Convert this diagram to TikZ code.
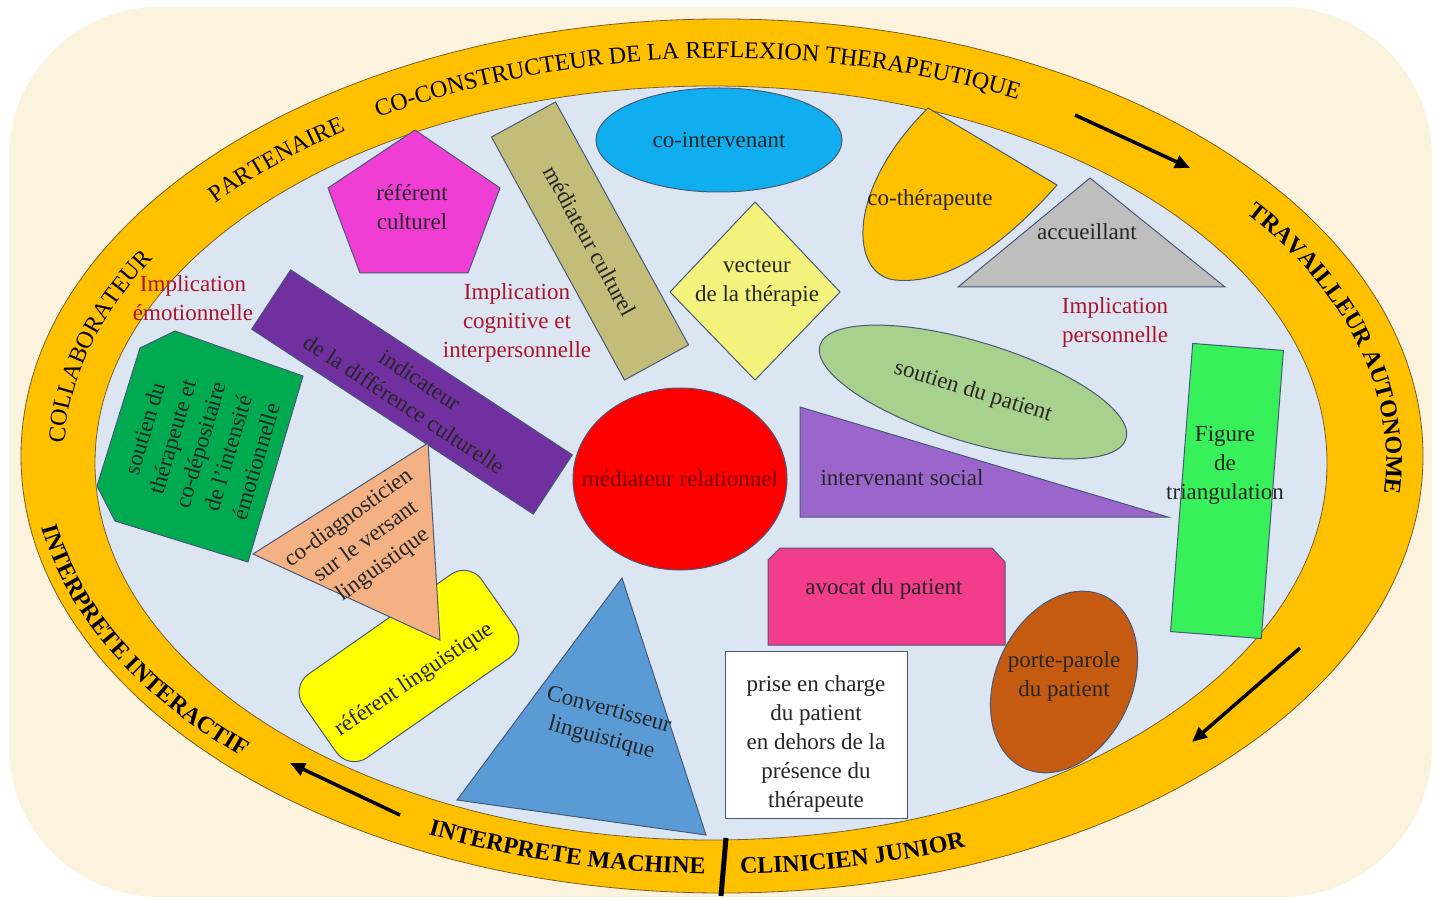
\documentclass[tikz,border=0pt]{standalone}
\usepackage{fontspec}
\setmainfont{Liberation Serif}
\usetikzlibrary{shapes.geometric,decorations.text,arrows.meta}

\definecolor{creme}{RGB}{252,243,222}
\definecolor{anneau}{RGB}{255,192,0}
\definecolor{ciel}{RGB}{220,230,242}
\definecolor{trait}{RGB}{70,90,120}
\definecolor{traitanneau}{RGB}{120,95,40}
\definecolor{rougeimpl}{RGB}{170,20,45}
\definecolor{magenta1}{RGB}{240,62,212}
\definecolor{kaki}{RGB}{196,189,122}
\definecolor{bleuvif}{RGB}{16,174,238}
\definecolor{gris}{RGB}{190,190,190}
\definecolor{jaunepale}{RGB}{242,242,125}
\definecolor{violet1}{RGB}{112,48,160}
\definecolor{vertfonce}{RGB}{0,170,80}
\definecolor{saumon}{RGB}{244,177,131}
\definecolor{jaune1}{RGB}{255,255,0}
\definecolor{bleu1}{RGB}{91,155,213}
\definecolor{rouge1}{RGB}{255,0,0}
\definecolor{rougetexte}{RGB}{120,0,0}
\definecolor{vertpale}{RGB}{169,209,142}
\definecolor{mauve}{RGB}{155,102,204}
\definecolor{vertvif}{RGB}{56,240,90}
\definecolor{rose1}{RGB}{242,60,140}
\definecolor{brun}{RGB}{197,90,17}

\newcommand{\ringfont}{\fontsize{24}{24}\selectfont}
\newcommand{\ringfontbf}{\fontsize{24}{24}\selectfont\bfseries}

\begin{document}
\begin{tikzpicture}[x=1pt, y=-1pt,
        every node/.style={font=\fontsize{23}{29}\selectfont, align=center, inner sep=0pt, text=black!85},
        forme/.style={draw=trait, line width=1pt},
        impl/.style={text=rougeimpl},
        bordanneau/.style={draw=traitanneau, line width=0.8pt},
        ringtext/.style={decorate, decoration={text along path, text align=center, text={|\ringfont|#1}}},
        ringtextbf/.style={decorate, decoration={text along path, text align=center, text={|\ringfontbf|#1}}},
        fleche/.style={line width=3.5pt, -{Triangle[length=15pt, width=13pt]}}]
        \useasboundingbox (0,0) rectangle (1441,901);
        \fill[creme, rounded corners=150pt] (9,7) rectangle (1432,897);
        \filldraw[fill=anneau, bordanneau] (722,456) ellipse [x radius=701, y radius=437];
        \filldraw[fill=ciel, bordanneau] (711,463) ellipse [x radius=616, y radius=377];

        \path[ringtext={COLLABORATEUR}] (725,460) ++(170:661 and 402) arc[start angle=170, end angle=220, x radius=661, y radius=402];
        \path[ringtext={PARTENAIRE}] (725,460) ++(206:661 and 402) arc[start angle=206, end angle=246, x radius=661, y radius=402];
        \path[ringtext={CO-CONSTRUCTEUR DE LA REFLEXION THERAPEUTIQUE}] (725,460) ++(221:661 and 402) arc[start angle=221, end angle=313, x radius=661, y radius=402];
        \path[ringtextbf={TRAVAILLEUR AUTONOME}] (725,460) ++(308:661 and 402) arc[start angle=308, end angle=383, x radius=661, y radius=402];
        \path[ringtextbf={INTERPRETE INTERACTIF}] (722,458) ++(192:690 and 416) arc[start angle=192, end angle=119, x radius=690, y radius=416];
        \path[ringtextbf={INTERPRETE MACHINE}] (722,458) ++(130:690 and 416) arc[start angle=130, end angle=78, x radius=690, y radius=416];
        \path[ringtextbf={CLINICIEN JUNIOR}] (722,458) ++(100:690 and 416) arc[start angle=100, end angle=57, x radius=690, y radius=416];

        \coordinate (fh1) at (1075,115);
        \coordinate (fh2) at (1190,168);
        \coordinate (fd1) at (1300,648);
        \coordinate (fd2) at (1192,742);
        \coordinate (fb1) at (400,815);
        \coordinate (fb2) at (290,763);
        \coordinate (sep1) at (726,838);
        \coordinate (sep2) at (721,896);
        \draw[fleche] (fh1) -- (fh2);
        \draw[fleche] (fd1) -- (fd2);
        \draw[fleche] (fb1) -- (fb2);
        \draw[line width=5pt] (sep1) -- (sep2);

        \draw[forme, fill=magenta1] (415,130) -- (500,188) -- (468,273) -- (360,273) -- (328,188) -- cycle;
        \node (refcult) at (412,207) {référent\\culturel};
        \node[forme, fill=kaki, rotate=-61.3, minimum width=277, minimum height=73] (medcult) at (590,241) {médiateur culturel};
        \node[forme, ellipse, fill=bleuvif, minimum width=246, minimum height=104] (cointer) at (719,140) {co-intervenant};
        \draw[forme, fill=anneau] (928,108) -- (1057,185) .. controls (1000,250) and (945,285) .. (895,280) .. controls (850,275) and (845,190) .. (928,108) -- cycle;
        \node (cother) at (930,200) {co-thérapeute};
        \draw[forme, fill=gris] (1090,178) -- (1225,287) -- (958,287) -- cycle;
        \node (accueil) at (1087,232) {accueillant};
        \draw[forme, fill=jaunepale] (755,202) -- (840,292) -- (755,380) -- (670,292) -- cycle;
        \node (vecteur) at (757,283) {vecteur\\de la thérapie};

        \node[impl] (impemo) at (193,298) {Implication\\émotionnelle};
        \node[impl] (impcog) at (517,323) {Implication\\cognitive et\\interpersonnelle};
        \node[impl] (imppers) at (1115,322) {Implication\\personnelle};

        \node[forme, fill=violet1, rotate=-33.3, minimum width=337, minimum height=71] (indic) at (412,392) {indicateur\\de la différence culturelle};
        \draw[forme, fill=vertfonce] (175,331) -- (303,376) -- (248,562) -- (115,521) -- (97,486) -- (140,348) -- cycle;
        \node[rotate=73.5] (soutther) at (200,445) {soutien du\\thérapeute et\\co-dépositaire\\de l'intensité\\émotionnelle};
        \node[forme, fill=jaune1, rounded corners=22, rotate=35, minimum width=218, minimum height=102] (reflin) at (409,666) {};
        \node[rotate=34] (reflintxt) at (414,680) {référent linguistique};
        \draw[forme, fill=saumon] (428,443) -- (440,640) -- (253,554) -- cycle;
        \node[rotate=36] (codiag) at (366,542) {co-diagnosticien\\sur le versant\\linguistique};
        \draw[forme, fill=bleu1] (622,578) -- (706,835) -- (457,800) -- cycle;
        \node[rotate=-15] (convert) at (605,725) {Convertisseur\\linguistique};
        \draw[forme, fill=rouge1] (680,479) ellipse [x radius=107, y radius=91];
        \node[text=rougetexte] (medrel) at (680,479) {médiateur relationnel};

        \draw[forme, fill=mauve] (800,407) -- (1168,517) -- (800,517) -- cycle;
        \node (intsoc) at (902,478) {intervenant social};
        \node[forme, ellipse, fill=vertpale, rotate=-17, minimum width=320, minimum height=100] (soutpat) at (973,392) {soutien du patient};
        \node[forme, fill=vertvif, rotate=-4.4, minimum width=91, minimum height=289] (figrect) at (1227,491) {};
        \node (figtri) at (1225,465) {Figure\\de\\triangulation};

        \draw[forme, fill=rose1] (780,548) -- (992,548) -- (1005,562) -- (1005,645) -- (768,645) -- (768,560) -- cycle;
        \node (avocat) at (884,589) {avocat du patient};
        \draw[forme, fill=white] (725,651) rectangle (907,818);
        \node (prise) at (816,744) {prise en charge\\du patient\\en dehors de la\\présence du\\thérapeute};
        \node[forme, ellipse, fill=brun, rotate=65, minimum width=190, minimum height=136] (porterect) at (1064,682) {};
        \node (porte) at (1064,676) {porte-parole\\du patient};
    \end{tikzpicture}
\end{document}
